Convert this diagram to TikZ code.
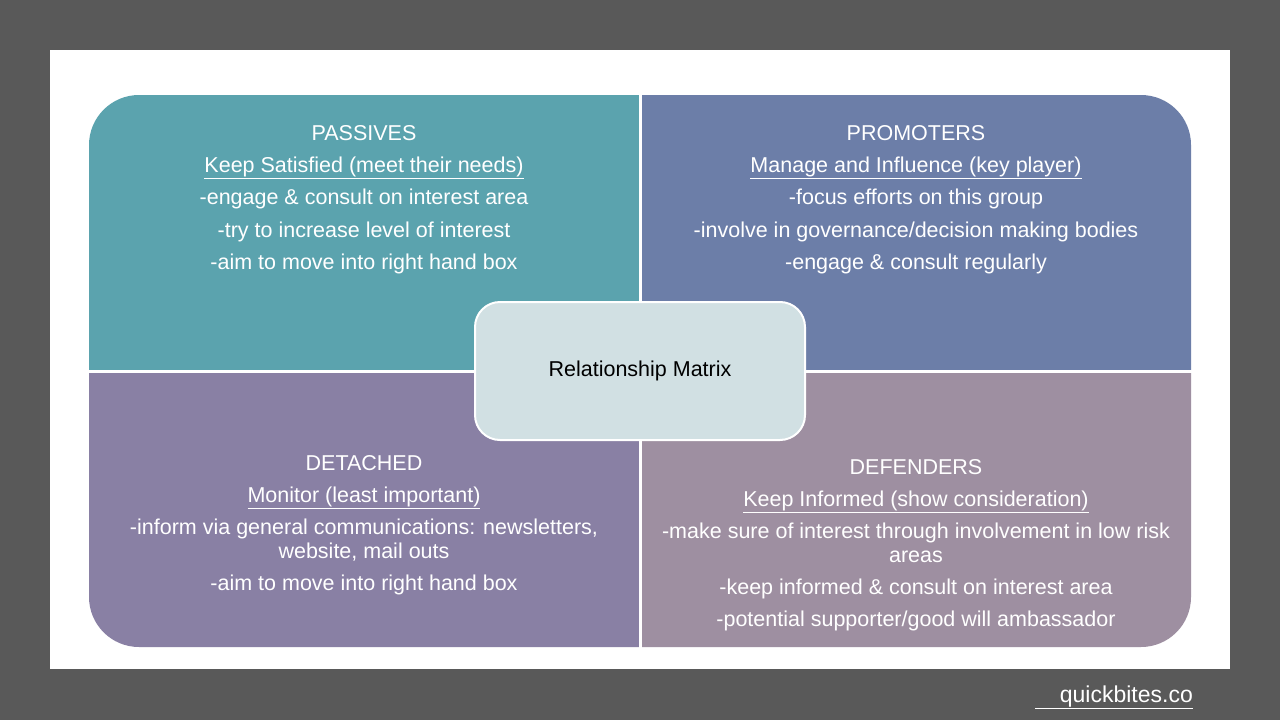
\documentclass[tikz,border=0pt]{standalone}
\usepackage{fontspec}
\setmainfont{Liberation Sans}
\definecolor{slidegray}{RGB}{89,89,89}
\definecolor{passivecol}{RGB}{91,163,174}
\definecolor{promotercol}{RGB}{108,126,168}
\definecolor{detachedcol}{RGB}{137,128,164}
\definecolor{defendercol}{RGB}{158,143,161}
\definecolor{matrixcol}{RGB}{209,224,227}

\begin{document}
\begin{tikzpicture}[x=1pt,y=-1pt,
  quadtext/.style={text=white,anchor=base,inner sep=0pt,font=\fontsize{21.5}{24}\selectfont},
  centrebox/.style={draw=white,line width=2pt,fill=matrixcol,rounded corners=25pt,
    minimum width=330pt,minimum height=138pt,font=\fontsize{21.5}{24}\selectfont}]
% slide and white panel
\fill[slidegray] (0,0) rectangle (1280,720);
\fill[white] (50,50) rectangle (1230,669);
% the four quadrants, clipped to one rounded outline
\begin{scope}
\clip[rounded corners=50pt] (89,95) rectangle (1191,647);
\fill[passivecol]  (80,85)      rectangle (638.5,369.5);
\fill[promotercol] (641.5,85)   rectangle (1200,369.5);
\fill[detachedcol] (80,372.5)   rectangle (638.5,655);
\fill[defendercol] (641.5,372.5) rectangle (1200,655);
\end{scope}
% top left
\foreach \y/\txt [count=\i] in {140/{PASSIVES},
  172/{\underline{Keep Satisfied (meet their needs)}},
  204/{-engage \& consult on interest area},
  237/{-try to increase level of interest},
  269/{-aim to move into right hand box}}
  {\node[quadtext] (pas\i) at (364,\y) {\txt};}
% top right
\foreach \y/\txt [count=\i] in {140/{PROMOTERS},
  172/{\underline{Manage and Influence (key player)}},
  204/{-focus efforts on this group},
  237/{-involve in governance/decision making bodies},
  269/{-engage \& consult regularly}}
  {\node[quadtext] (pro\i) at (916,\y) {\txt};}
% bottom left
\foreach \y/\txt [count=\i] in {470/{DETACHED},
  502/{\underline{Monitor (least important)}},
  534/{-inform via general communications: newsletters,},
  558/{website, mail outs},
  590/{-aim to move into right hand box}}
  {\node[quadtext] (det\i) at (364,\y) {\txt};}
% bottom right
\foreach \y/\txt [count=\i] in {474/{DEFENDERS},
  506/{\underline{Keep Informed (show consideration)}},
  538/{-make sure of interest through involvement in low risk},
  562/{areas},
  594/{-keep informed \& consult on interest area},
  626/{-potential supporter/good will ambassador}}
  {\node[quadtext] (def\i) at (916,\y) {\txt};}
% centre label
\node[centrebox] (relmat) at (640,371) {Relationship Matrix};
% footer link
\node[text=white,anchor=base east,inner sep=0pt,font=\fontsize{23}{24}\selectfont] (site)
  at (1193,702) {\underline{\hspace{25pt}quickbites.co}};
\end{tikzpicture}
\end{document}
